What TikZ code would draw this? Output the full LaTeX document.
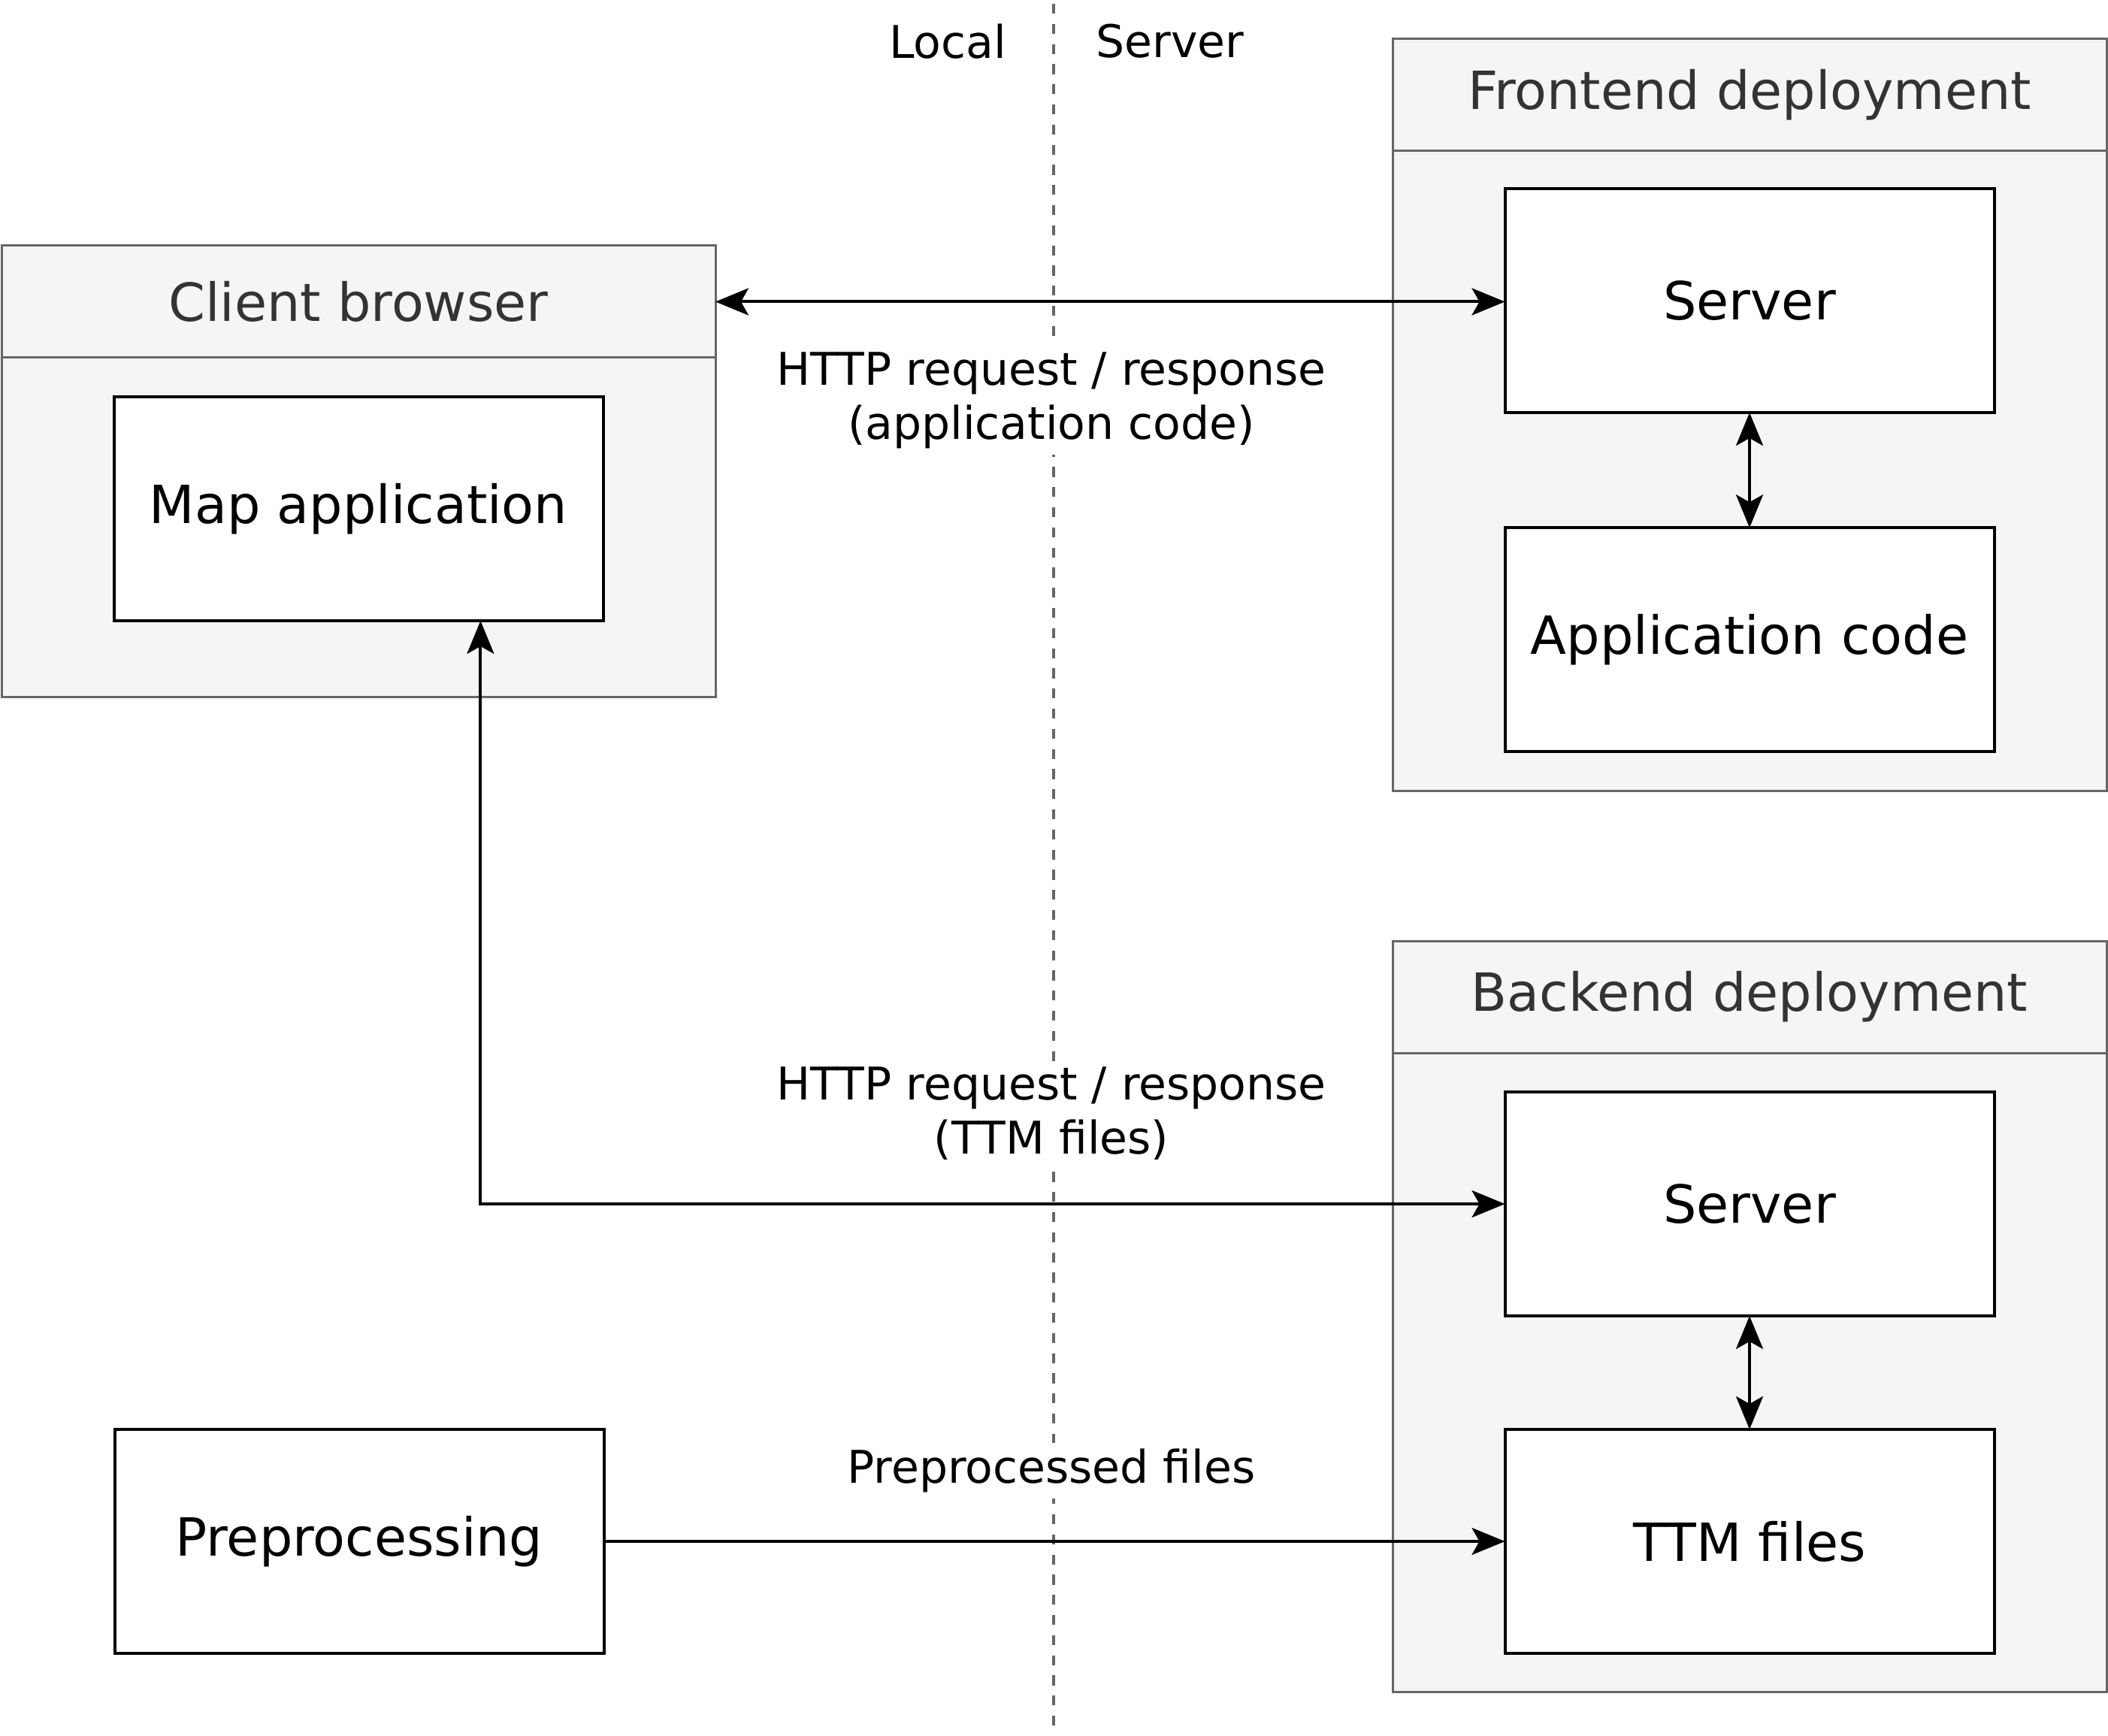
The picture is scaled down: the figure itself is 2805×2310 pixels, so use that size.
\documentclass[tikz,border=0pt]{standalone}
\usepackage{fontspec}
\setmainfont{DejaVu Sans}
\usepackage{tikz}
\usetikzlibrary{arrows.meta, positioning}
\definecolor{panelfill}{HTML}{F5F5F5}
\definecolor{paneldraw}{HTML}{666666}
\definecolor{paneltext}{HTML}{333333}
\tikzset{
    panel/.style = {rectangle, draw=paneldraw, fill=panelfill, line width=0.75pt, outer sep=0pt, anchor=north west, minimum width=237.5pt},
    panelhead/.style = {panel, minimum height=37.25pt, text=paneltext, font=\fontsize{17.5}{20}\selectfont},
    box/.style = {rectangle, draw, fill=white, line width=1pt, outer sep=0pt, minimum width=162.75pt, minimum height=74.5pt, font=\fontsize{17.5}{20}\selectfont},
    tag/.style = {fill=white, inner sep=2pt, align=center, font=\fontsize{15}{18}\selectfont},
    side/.style = {font=\fontsize{15}{18}\selectfont},
    line/.style = {draw, line width=1pt, -{Stealth[length=11pt, width=9pt, inset=2.5pt]}},
    biline/.style = {draw, line width=1pt, {Stealth[length=11pt, width=9pt, inset=2.5pt]}-{Stealth[length=11pt, width=9pt, inset=2.5pt]}},
    divider/.style = {draw=paneldraw, line width=0.8pt, dash pattern=on 3.3pt off 3.4pt}
}

\begin{document}
\begin{tikzpicture}[x={(0.25pt,0)}, y={(0,-0.25pt)}]
        \useasboundingbox (0,0) rectangle (2805,2310);

        % Local / Server divider
        \coordinate (divtop) at (1402,5);
        \coordinate (divbot) at (1402,2299);
        \path [divider] (divtop) -- (divbot);
        \node [side] (local) at (1261,55) {Local};
        \node [side] (remote) at (1557,55) {Server};

        % Containers
        \node [panel, minimum height=150pt] (client) at (2,327) {};
        \node [panelhead] (clienthead) at (2,327) {Client browser};
        \node [panel, minimum height=250pt] (frontend) at (1853,52) {};
        \node [panelhead] (fronthead) at (1853,52) {Frontend deployment};
        \node [panel, minimum height=249.75pt] (backend) at (1853,1252) {};
        \node [panelhead] (backhead) at (1853,1252) {Backend deployment};

        % Blocks
        \node [box, below=13pt of clienthead] (mapapp) {Map application};
        \node [box, below=12.5pt of fronthead] (fserver) {Server};
        \node [box, below=38.3pt of fserver] (appcode) {Application code};
        \node [box, below=13pt of backhead] (bserver) {Server};
        \node [box, below=37.75pt of bserver] (ttm) {TTM files};
        \node [box, left=299.75pt of ttm] (preproc) {Preprocessing};

        % Edges
        \path [biline] (clienthead.east) -- (clienthead.east -| fserver.west);
        \path [biline] (fserver) -- (appcode);
        \path [biline] ([xshift=40.6pt]mapapp.south) |- (bserver.west);
        \path [biline] (bserver) -- (ttm);
        \path [line] (preproc) -- (ttm);

        % Edge labels
        \node [tag] (codelabel) at (1399,533) {HTTP request / response\\(application code)};
        \node [tag] (ttmlabel) at (1399,1482) {HTTP request / response\\(TTM files)};
        \node [tag] (prelabel) at (1399,1957) {Preprocessed files};

    \end{tikzpicture}
\end{document}
